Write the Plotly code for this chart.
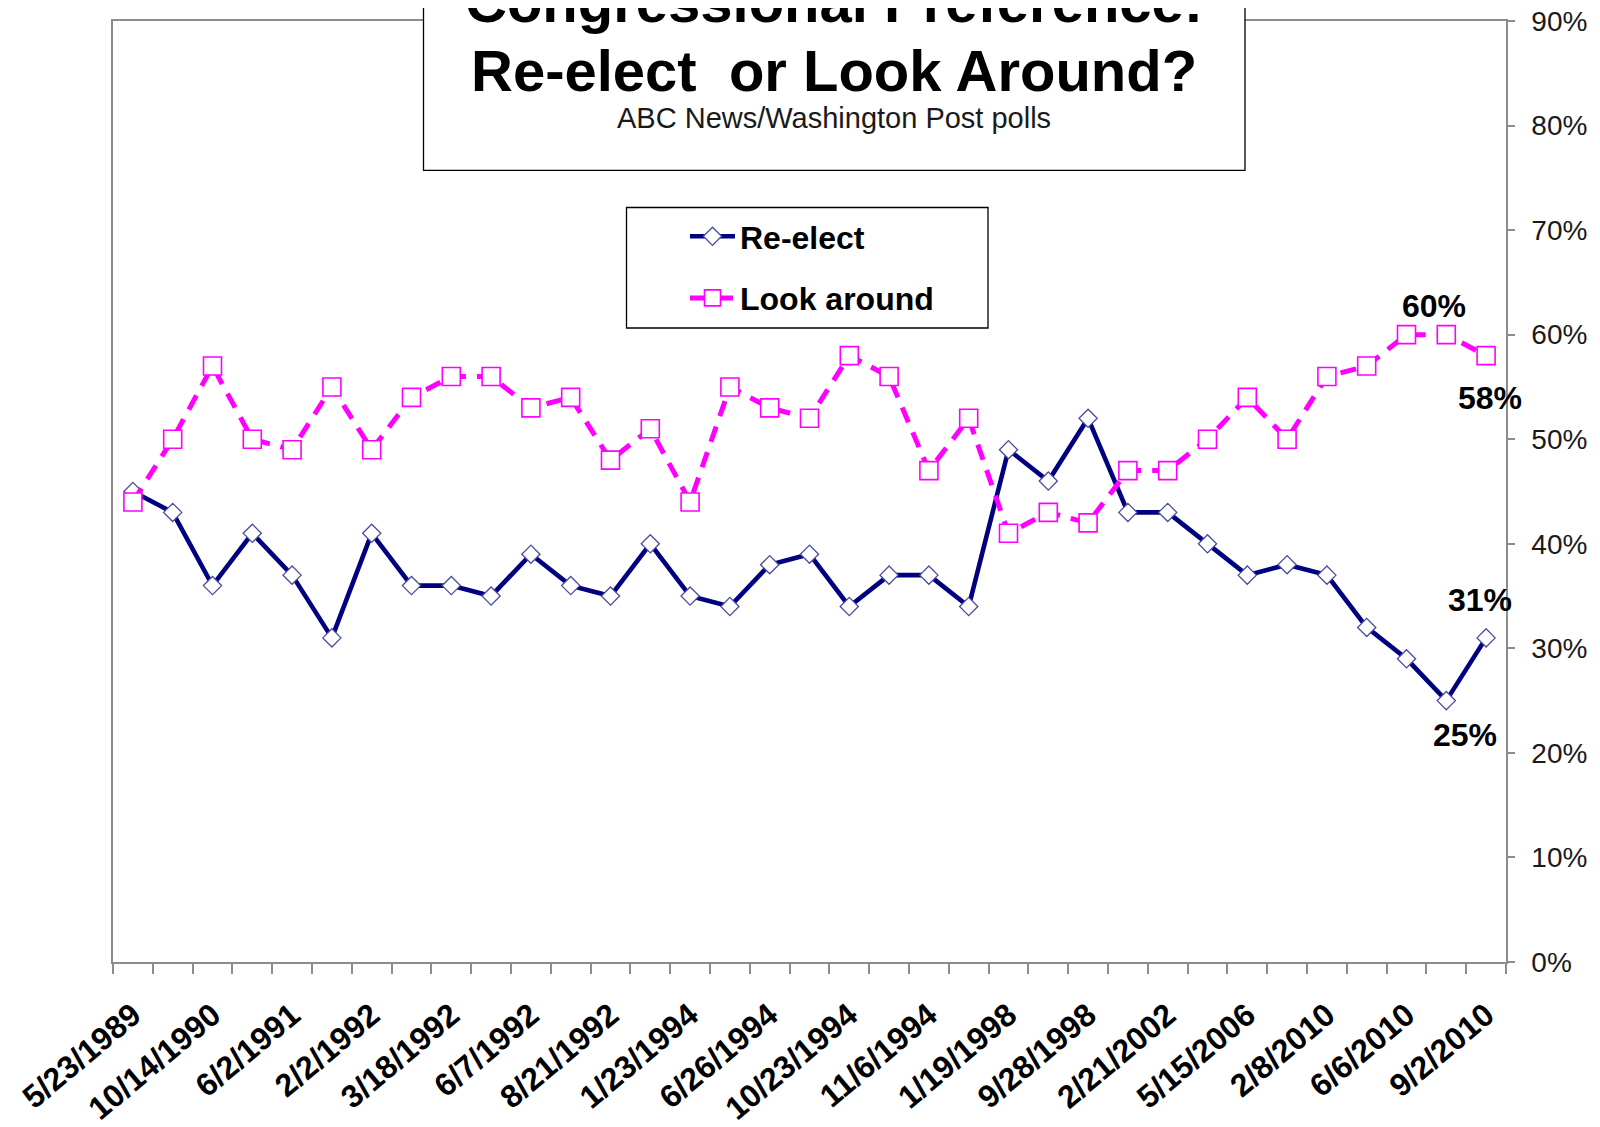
import plotly.graph_objects as go

# ---- data ----
re_elect = [45, 43, 36, 41, 37, 31, 41, 36, 36, 35, 39, 36, 35, 40, 35, 34, 38, 39,
            34, 37, 37, 34, 49, 46, 52, 43, 43, 40, 37, 38, 37, 32, 29, 25, 31]
look_around = [44, 50, 57, 50, 49, 55, 49, 54, 56, 56, 53, 54, 48, 51, 44, 55, 53, 52,
               58, 56, 47, 52, 41, 43, 42, 47, 47, 50, 54, 50, 56, 57, 60, 60, 58]
tick_labels = ["5/23/1989", "10/14/1990", "6/2/1991", "2/2/1992", "3/18/1992",
               "6/7/1992", "8/21/1992", "1/23/1994", "6/26/1994", "10/23/1994",
               "11/6/1994", "1/19/1998", "9/28/1998", "2/21/2002", "5/15/2006",
               "2/8/2010", "6/6/2010", "9/2/2010"]
y_ticks = [0, 10, 20, 30, 40, 50, 60, 70, 80, 90]
y_tick_text = [f"{v}%" for v in y_ticks]

x_idx = list(range(len(re_elect)))
label_idx = x_idx[::2]

# page has an 8px body margin; figure coordinates = page - 8
OFF = 8
W, H = 1592, 1119
ML, MR, MT, MB = 105, 94, 13, 165
PW, PH = W - ML - MR, H - MT - MB


def px(x):  # page pixel -> paper
    return (x - OFF - ML) / PW


def py(y):  # page pixel -> paper
    return (H - MB - (y - OFF)) / PH


FONT = "Arial, Liberation Sans, sans-serif"
AX = "#8c8c8c"

fig = go.Figure()
fig.add_trace(go.Scatter(
    x=x_idx, y=re_elect, name="Re-elect", mode="lines+markers",
    legendgroup="a",
    line=dict(color="#000080", width=4.6),
    marker=dict(symbol="diamond", size=14, color="white",
                line=dict(color="#4b4ba0", width=1.3)),
))
fig.add_trace(go.Scatter(
    x=x_idx, y=look_around, name="Look around", mode="lines+markers",
    legendgroup="b",
    line=dict(color="#FF00FF", width=5, dash="16px,11px"),
    marker=dict(symbol="square", size=18, color="white",
                line=dict(color="#FF00FF", width=1.6)),
))

# data labels
n = len(re_elect)
labels = [
    (n - 2, look_around[n - 2], -12, 29),
    (n - 1, look_around[n - 1], 4, -42),
    (n - 1, re_elect[n - 1], -6, 38),
    (n - 2, re_elect[n - 2], 19, -34),
]
for xi, v, dx, dy in labels:
    fig.add_annotation(x=xi, y=v, xref="x", yref="y", text=f"{v}%",
                       showarrow=False, xshift=dx, yshift=dy,
                       xanchor="center", yanchor="middle",
                       font=dict(family=FONT, size=32, color="black", weight="bold"))

# title box
fig.add_shape(type="rect", xref="paper", yref="paper",
              x0=px(423.5), x1=px(1245), y0=py(170.4), y1=py(-10),
              fillcolor="white", line=dict(color="black", width=1.3), layer="above")
title_lines = [("Congressional Preference:", 2, 58, True),
               ("Re-elect\u00a0 or Look Around?", 70, 58, True),
               ("ABC News/Washington Post polls", 118, 29, False)]
for txt, yc, sz, bold in title_lines:
    fig.add_annotation(xref="paper", yref="paper", x=px(834), y=py(yc),
                       xanchor="center", yanchor="middle",
                       text=txt, showarrow=False,
                       font=dict(family=FONT, size=sz,
                                 color="black" if bold else "#1a1a1a",
                                 weight="bold" if bold else "normal"))

# legend box
fig.add_shape(type="rect", xref="paper", yref="paper",
              x0=px(626.5), x1=px(988), y0=py(328), y1=py(207.5),
              fillcolor="white", line=dict(color="black", width=1.3), layer="below")

fig.update_layout(
    width=W, height=H,
    margin=dict(l=ML, r=MR, t=MT, b=MB, autoexpand=False),
    paper_bgcolor="white", plot_bgcolor="white",
    showlegend=True,
    legend=dict(x=px(685), y=py(209), xanchor="left", yanchor="top",
                bgcolor="rgba(0,0,0,0)", borderwidth=0, itemwidth=45,
                traceorder="grouped", tracegroupgap=17,
                font=dict(family=FONT, size=32, color="black", weight="bold")),
    xaxis=dict(range=[-0.5, n - 0.5], showgrid=False, zeroline=False,
               automargin=False,
               showline=True, linecolor=AX, linewidth=1.5, mirror=True,
               tickmode="array", tickvals=label_idx, ticktext=tick_labels,
               ticks="", tickangle=-40, ticklabelstandoff=20,
               ticklabeloverflow="allow",
               tickfont=dict(family=FONT, size=32, color="black", weight="bold"),
               minor=dict(ticks="outside", tick0=-0.5, dtick=1, ticklen=10,
                          tickcolor=AX, tickwidth=1.5, showgrid=False)),
    yaxis=dict(range=[0, 90], side="right", showgrid=False, zeroline=False,
               automargin=False,
               showline=True, linecolor=AX, linewidth=1.5, mirror=True,
               tickmode="array", tickvals=y_ticks, ticktext=y_tick_text,
               ticks="outside", ticklen=7, tickcolor=AX, tickwidth=1.5,
               ticklabelstandoff=11, ticklabeloverflow="allow",
               tickfont=dict(family=FONT, size=28, color="#1a1a1a")),
)

fig.write_html("out.html")
